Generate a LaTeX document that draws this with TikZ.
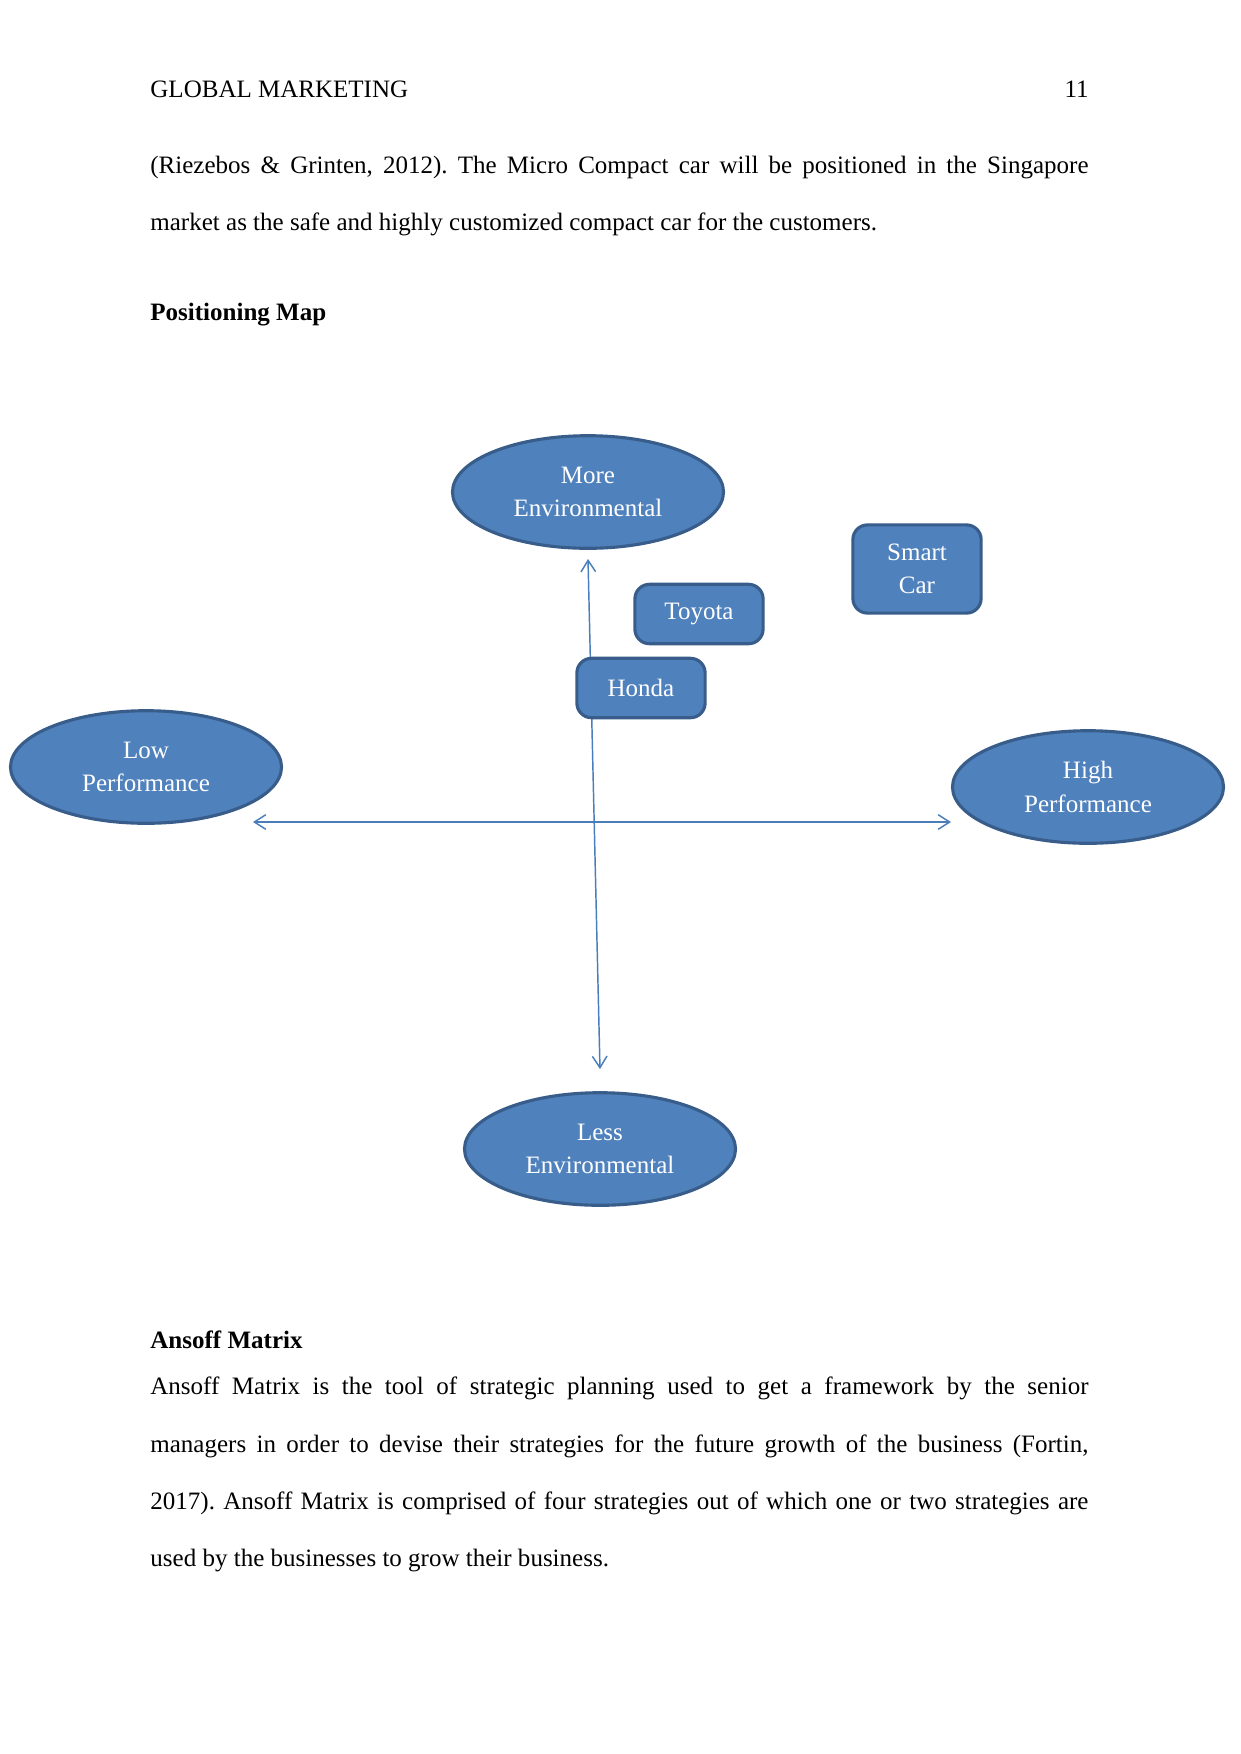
\documentclass[tikz,border=0pt]{standalone}
\usepackage{fontspec}
\setmainfont{Liberation Serif}
\usetikzlibrary{shapes.geometric,arrows.meta}
\definecolor{fillblue}{HTML}{4F81BD}
\definecolor{edgeblue}{HTML}{385D8A}
\definecolor{lineblue}{HTML}{4A7EBB}
\frenchspacing
\begin{document}
\begin{tikzpicture}[x=0.47967pt,y=-0.47967pt,
  oval/.style={ellipse,draw=edgeblue,fill=fillblue,line width=1.5pt,text=white,inner sep=0pt,
    minimum width=130pt,minimum height=54pt,align=center,font=\fontsize{12}{16}\selectfont},
  card/.style={rectangle,rounded corners=7pt,draw=edgeblue,fill=fillblue,line width=1.5pt,text=white,
    inner sep=0pt,minimum width=61.5pt,minimum height=28.5pt,align=center,font=\fontsize{12}{16}\selectfont},
  axis/.style={draw=lineblue,line width=0.7pt,{Straight Barb[length=5.5pt,width=7pt]}-{Straight Barb[length=5.5pt,width=7pt]}},
  body/.style={anchor=base west,inner sep=0pt,font=\fontsize{12}{14}\selectfont},
  bodyr/.style={anchor=base east,inner sep=0pt,font=\fontsize{12}{14}\selectfont}]
\useasboundingbox[fill=white] (0,0) rectangle (1241,1754);

% page text
\node[body] (hdr) at (150,97) {GLOBAL MARKETING};
\node[bodyr] (pg) at (1089,97) {11};
\node[body] (l1) at (150,173) {\makebox[450pt][s]{(Riezebos \& Grinten, 2012). The Micro Compact car will be positioned in the Singapore}};
\node[body] (l2) at (150,230) {market as the safe and highly customized compact car for the customers.};
\node[body] (h1) at (150,320) {\bfseries Positioning Map};

\node[body] (h2) at (150,1348) {\bfseries Ansoff Matrix};
\node[body] (a1) at (150,1394) {\makebox[450pt][s]{Ansoff Matrix is the tool of strategic planning used to get a framework by the senior}};
\node[body] (a2) at (150,1452) {\makebox[450pt][s]{managers in order to devise their strategies for the future growth of the business (Fortin,}};
\node[body] (a3) at (150,1509) {\makebox[450pt][s]{2017). Ansoff Matrix is comprised of four strategies out of which one or two strategies are}};
\node[body] (a4) at (150,1566) {used by the businesses to grow their business.};

% axes
\coordinate (vt) at (588,559);
\coordinate (vb) at (600,1069);
\coordinate (hl) at (253,822);
\coordinate (hr) at (951,822);
\draw[axis] (vb) -- (vt);
\draw[axis] (hl) -- (hr);

% ellipses
\node[oval] (more) at (588,492) {More\\Environmental};
\node[oval] (low) at (146,767) {Low\\Performance};
\node[oval] (high) at (1088,787) {High\\Performance};
\node[oval] (less) at (600,1149) {Less\\Environmental};

% cars
\node[card,minimum height=42.3pt] (smart) at (917,569) {Smart\\Car};
\node[card] (toyota) at (699,614) {\raisebox{-1pt}{Toyota}};
\node[card] (honda) at (641,688) {Honda};
\end{tikzpicture}
\end{document}
